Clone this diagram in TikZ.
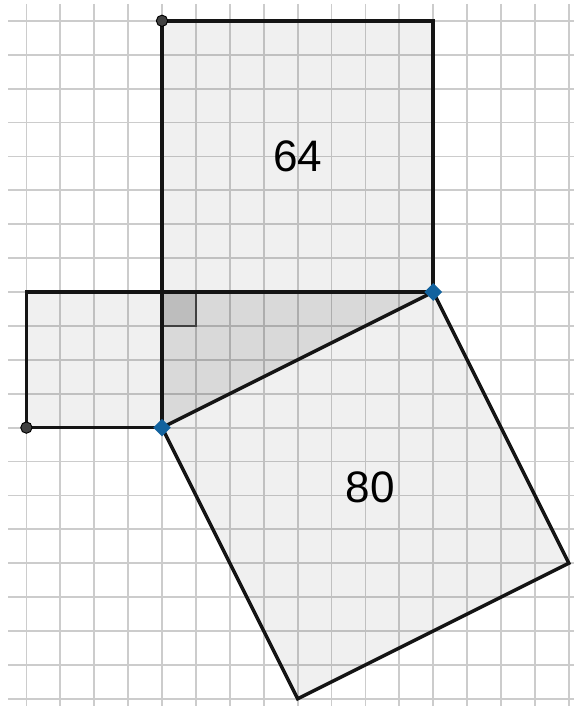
\documentclass[tikz,border=0pt]{standalone}
\usepackage{fontspec}
\setsansfont{Liberation Sans}
\usepackage{xcolor}
\usetikzlibrary{shapes.geometric}

\definecolor{ptblue}{RGB}{18,98,158}

\begin{document}
\begin{tikzpicture}[
    gridline/.style={draw=gray!40, line width=1.5pt},
    side/.style={draw=black!92, line width=2.9pt, line join=miter},
    sqfill/.style={fill=black, fill opacity=0.06},
    trifill/.style={fill=black, fill opacity=0.15},
    anglemark/.style={fill=black, fill opacity=0.13, draw=black!75, line width=2pt},
    freept/.style={circle, fill=black!75, draw=black, line width=0.8pt, inner sep=0pt, minimum size=9.5pt},
    bluept/.style={diamond, fill=ptblue, inner sep=0pt, minimum size=15pt},
    area/.style={font=\sffamily\fontsize{37}{40}\selectfont}
]
\useasboundingbox (-4.779,-12.212) rectangle (12.124,8.614);

% grid
\foreach \x in {-4,...,12} \draw[gridline] (\x,8.5) -- (\x,-12.4);
\foreach \y in {-12,...,8} \draw[gridline] (-4.54,\y) -- (12.3,\y);

% points of the figure
\coordinate (C) at (0,0);
\coordinate (A) at (8,0);
\coordinate (B) at (0,-4);
\coordinate (P) at (0,8);
\coordinate (Q) at (8,8);
\coordinate (R) at (-4,0);
\coordinate (S) at (-4,-4);
\coordinate (T) at (12,-8);
\coordinate (U) at (4,-12);

% fills
\fill[sqfill] (C) -- (A) -- (Q) -- (P) -- cycle;
\fill[sqfill] (R) -- (C) -- (B) -- (S) -- cycle;
\fill[sqfill] (B) -- (A) -- (T) -- (U) -- cycle;
\fill[trifill] (C) -- (A) -- (B) -- cycle;
\draw[anglemark] (C) rectangle (1,-1);

% sides
\draw[side] (C) -- (A) -- (Q) -- (P) -- cycle;
\draw[side] (R) -- (C) -- (B) -- (S) -- cycle;
\draw[side] (B) -- (A) -- (T) -- (U) -- cycle;

% labels
\node[area] (lab64) at (4,4) {64};
\node[area] (lab80) at (6.14,-5.77) {80};

% points
\node[freept] (ptP) at (P) {};
\node[freept] (ptS) at (S) {};
\node[bluept] (ptA) at (A) {};
\node[bluept] (ptB) at (B) {};
\end{tikzpicture}
\end{document}
